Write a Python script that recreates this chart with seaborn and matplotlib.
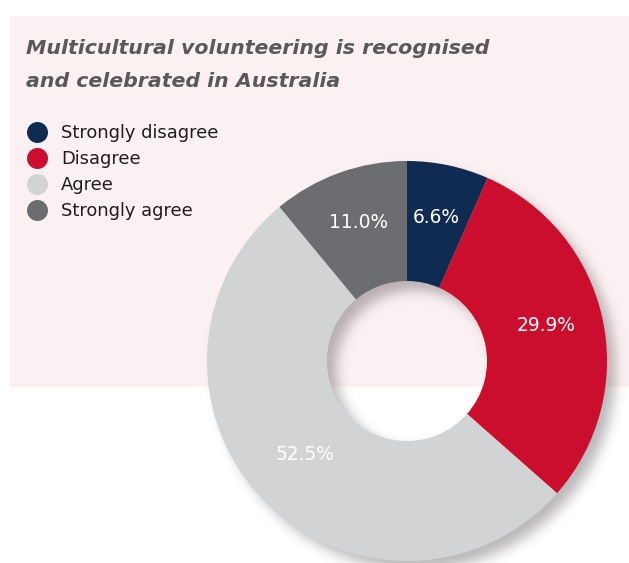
import numpy as np
import matplotlib
matplotlib.use("Agg")
import matplotlib.pyplot as plt
import matplotlib.transforms as mtransforms
from matplotlib.patches import Rectangle
from matplotlib.lines import Line2D
import seaborn as sns

# Survey response shares (percent), drawn clockwise from 12 o'clock
categories = ["Strongly disagree", "Disagree", "Agree", "Strongly agree"]
shares = [6.6, 29.9, 52.5, 11.0]
colors = ["#0F2B52", "#CC0E2E", "#D2D3D5", "#6C6D71"]
title_lines = ["Multicultural volunteering is recognised",
               "and celebrated in Australia"]

sns.set_theme(style="white")
plt.rcParams["font.family"] = ["DejaVu Sans"]

W, H = 629, 563
fig = plt.figure(figsize=(W / 100, H / 100), dpi=100)
fig.patch.set_facecolor("white")

# pale pink panel behind the title, legend and upper half of the ring
fig.add_artist(Rectangle((10 / W, (H - 387) / H), (W - 10) / W, (387 - 16) / H,
                         transform=fig.transFigure, facecolor="#FBF1F2",
                         edgecolor="none", zorder=-1))

lim = 1.15
half = 230
cx, cy = 407, H - 361
ax = fig.add_axes([(cx - half) / W, (cy - half) / H, 2 * half / W, 2 * half / H])
ax.set_facecolor("none")

# soft drop shadow under the ring (offset down-right, gaussian blurred)
n = 461
g = np.linspace(-lim, lim, n)
xx, yy = np.meshgrid(g, g)
off = 0.045
rr = np.hypot(xx - off, yy + off)
mask = ((rr <= 1.0) & (rr >= 0.4)).astype(float)
sigma = 0.03 / (g[1] - g[0])
k = np.arange(-int(4 * sigma), int(4 * sigma) + 1)
kern = np.exp(-0.5 * (k / sigma) ** 2)
kern /= kern.sum()
blur = np.apply_along_axis(lambda v: np.convolve(v, kern, mode="same"), 0, mask)
blur = np.apply_along_axis(lambda v: np.convolve(v, kern, mode="same"), 1, blur)
shadow = np.zeros((n, n, 4))
shadow[..., :3] = (0.30, 0.27, 0.28)
shadow[..., 3] = 0.38 * blur
ax.imshow(shadow, extent=(-lim, lim, -lim, lim), origin="lower",
          interpolation="bilinear", zorder=0)

palette = sns.color_palette(colors)
wedges, texts, autotexts = ax.pie(
    shares, colors=palette, startangle=90, counterclock=False, radius=1.0,
    autopct="%.1f%%", pctdistance=0.71,
    wedgeprops=dict(width=0.6, linewidth=0),
    textprops=dict(color="white", fontsize=13.4))
for w in wedges:
    w.set_zorder(2)
lift = mtransforms.offset_copy(ax.transData, fig=fig, x=0, y=5, units="dots")
for t in autotexts:
    t.set_transform(lift)
    t.set_zorder(3)

ax.set_xlim(-lim, lim)
ax.set_ylim(-lim, lim)
ax.set_axis_off()

# title
for i, line in enumerate(title_lines):
    fig.text(26 / W, (H - 54 - 33 * i) / H, line, fontsize=14.76,
             fontweight="bold", fontstyle="italic", color="#58595B",
             va="baseline", ha="left")

# legend with round swatches
handles = [Line2D([], [], marker="o", linestyle="none", markersize=15.1,
                  markerfacecolor=c, markeredgecolor="none") for c in palette]
fig.legend(handles, categories, loc="upper left",
           bbox_to_anchor=(26 / W, (H - 124) / H), frameon=False,
           fontsize=12.9, handlelength=1.2, handletextpad=0.74,
           labelspacing=0.45, borderpad=0, borderaxespad=0,
           labelcolor="#1E1E1E")

fig.savefig("out.png", dpi=100)
